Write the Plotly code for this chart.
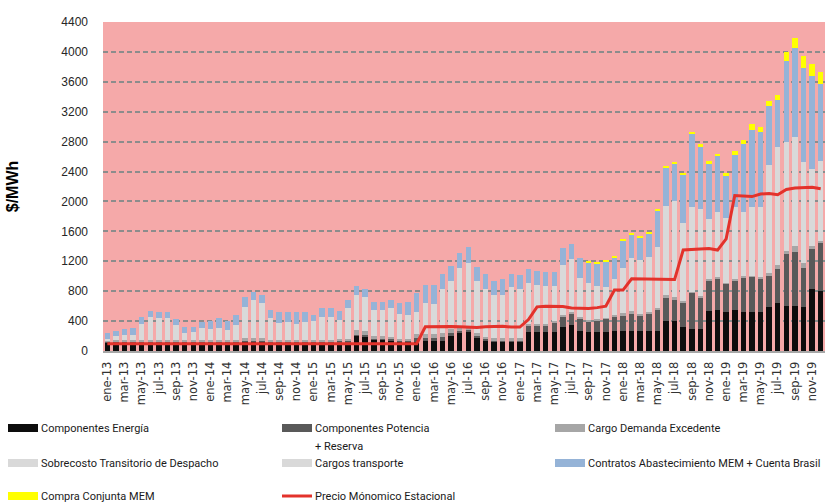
import plotly.graph_objects as go

# Monthly periods ene-13 .. dic-19
meses = ["ene", "feb", "mar", "abr", "may", "jun", "jul", "ago", "sep", "oct", "nov", "dic"]
periodos = [f"{m}-{a}" for a in range(13, 20) for m in meses]
etiquetas = periodos[::2]

# Stacked components in $/MWh (one value per month, 2013..2019)
energia = [
    120, 120, 120, 120, 120, 120, 120, 120, 120, 120, 120, 120,
    120, 120, 120, 120, 125, 125, 125, 120, 120, 120, 120, 120,
    120, 120, 120, 120, 120, 210, 200, 155, 155, 145, 125, 125,
    125, 134, 134, 134, 200, 236, 267, 178, 147, 125, 125, 125,
    125, 258, 258, 258, 258, 325, 343, 270, 258, 258, 258, 262,
    267, 270, 270, 270, 270, 405, 405, 317, 294, 294, 535, 548,
    526, 548, 526, 526, 526, 592, 646, 606, 606, 584, 829, 806,
]
potencia = [
    10, 10, 10, 10, 10, 10, 10, 10, 10, 10, 10, 10,
    10, 10, 10, 10, 10, 10, 10, 10, 10, 10, 10, 10,
    10, 10, 10, 10, 10, 10, 10, 10, 10, 10, 10, 10,
    45, 45, 45, 55, 40, 30, 15, 33, 20, 20, 20, 20,
    20, 89, 89, 89, 120, 143, 152, 167, 142, 156, 170, 197,
    214, 234, 211, 225, 291, 299, 277, 334, 486, 424, 414, 424,
    370, 401, 459, 468, 446, 411, 446, 691, 722, 530, 535, 634,
]
demanda_excedente = [
    17, 17, 17, 17, 17, 17, 17, 17, 17, 17, 17, 17,
    17, 17, 17, 17, 40, 40, 40, 17, 17, 17, 17, 17,
    17, 17, 17, 35, 35, 60, 55, 35, 35, 35, 20, 20,
    55, 50, 50, 55, 50, 37, 25, 25, 25, 25, 25, 25,
    25, 20, 20, 20, 20, 20, 22, 20, 20, 18, 18, 18,
    22, 25, 20, 20, 20, 45, 35, 20, 15, 15, 15, 15,
    15, 15, 15, 15, 20, 35, 58, 45, 70, 58, 45, 30,
]
sobrecosto = [
    0, 34, 47, 51, 194, 292, 279, 279, 181, 69, 91, 136,
    120, 137, 118, 178, 396, 486, 447, 274, 212, 214, 192, 214,
    229, 287, 287, 229, 381, 444, 428, 323, 323, 356, 314, 301,
    256, 372, 354, 540, 606, 766, 820, 659, 592, 533, 534, 636,
    569, 448, 426, 412, 381, 572, 620, 434, 395, 347, 315, 396,
    457, 560, 566, 592, 655, 1044, 1143, 886, 985, 1011, 651, 726,
    643, 746, 634, 701, 718, 1229, 1361, 1236, 1239, 1139, 804, 854,
]
transporte = [
    9, 20, 20, 20, 20, 20, 20, 20, 20, 20, 20, 20,
    22, 22, 22, 22, 22, 22, 22, 22, 22, 22, 22, 22,
    25, 25, 25, 25, 25, 25, 25, 25, 25, 25, 25, 25,
    45, 45, 45, 45, 45, 45, 45, 45, 45, 45, 45, 45,
    90, 90, 90, 90, 90, 90, 90, 90, 90, 90, 90, 90,
    150, 150, 150, 150, 150, 150, 150, 150, 150, 150, 150, 150,
    220, 220, 220, 220, 220, 220, 220, 220, 220, 220, 220, 220,
]
contratos = [
    89, 71, 80, 94, 98, 76, 71, 71, 76, 89, 67, 89,
    116, 134, 116, 134, 125, 107, 111, 107, 147, 134, 156, 134,
    80, 111, 111, 111, 111, 120, 107, 111, 111, 111, 143, 178,
    254, 236, 254, 200, 200, 200, 214, 187, 200, 192, 209, 178,
    183, 187, 187, 183, 183, 223, 200, 258, 280, 299, 351, 292,
    372, 316, 305, 318, 490, 507, 493, 653, 983, 838, 742, 739,
    568, 695, 918, 1025, 994, 793, 621, 1084, 1190, 1253, 1244, 1021,
]
compra_conjunta = [
    0, 0, 0, 0, 0, 0, 0, 0, 0, 0, 0, 0,
    0, 0, 0, 0, 0, 0, 0, 0, 0, 0, 0, 0,
    0, 0, 0, 0, 0, 0, 0, 0, 0, 0, 0, 0,
    0, 0, 0, 0, 0, 0, 0, 0, 0, 0, 0, 0,
    0, 0, 0, 0, 0, 0, 0, 0, 18, 18, 18, 22,
    18, 18, 18, 18, 18, 18, 22, 18, 22, 36, 31, 36,
    36, 53, 53, 76, 71, 67, 71, 111, 134, 156, 156, 169,
]
precio_monomico = [
    98, 98, 98, 98, 98, 98, 98, 98, 98, 98, 98, 98,
    98, 98, 98, 98, 98, 98, 98, 98, 98, 98, 98, 98,
    98, 98, 98, 98, 98, 98, 98, 98, 98, 98, 98, 98,
    98, 325, 328, 328, 328, 325, 315, 315, 325, 330, 330, 320,
    320, 420, 590, 600, 600, 595, 575, 570, 570, 580, 600, 815,
    815, 965, 965, 965, 965, 965, 955, 1350, 1355, 1360, 1370, 1350,
    1500, 2080, 2075, 2065, 2100, 2105, 2090, 2160, 2180, 2185, 2190, 2170,
]

series = [
    ("Componentes Energía", energia, "#0D0D0D"),
    ("Componentes Potencia + Reserva", potencia, "#595959"),
    ("Cargo Demanda Excedente", demanda_excedente, "#A6A6A6"),
    ("Sobrecosto Transitorio de Despacho", sobrecosto, "#D9D9D9"),
    ("Cargos transporte", transporte, "#D9D9D9"),
    ("Contratos Abastecimiento MEM + Cuenta Brasil", contratos, "#95B3D7"),
    ("Compra Conjunta MEM", compra_conjunta, "#FFFF00"),
]

fig = go.Figure()
for nombre, valores, color in series:
    fig.add_trace(go.Bar(
        x=periodos, y=valores, name=nombre,
        marker=dict(color=color, line=dict(width=0)),
    ))
fig.add_trace(go.Scatter(
    x=periodos, y=precio_monomico, name="Precio Mónomico Estacional",
    mode="lines", line=dict(color="#E3322B", width=3),
))

# plot-area geometry in pixels, used to place the hand-drawn legend
L, R, T, B = 103, 825, 22, 351


def px(x):
    return (x - L) / (R - L)


def py(y):
    return (B - y) / (B - T)


legend_font = dict(family="Roboto, sans-serif", size=11, color="#1A1A1A")
entradas = [
    ("Componentes Energía", "#0D0D0D", "bar", 8, 428),
    ("Componentes Potencia", "#595959", "bar", 282, 428),
    ("Cargo Demanda Excedente", "#A6A6A6", "bar", 555, 428),
    ("Sobrecosto Transitorio de Despacho", "#D9D9D9", "bar", 8, 463),
    ("Cargos transporte", "#D9D9D9", "bar", 282, 463),
    ("Contratos Abastecimiento MEM + Cuenta Brasil", "#95B3D7", "bar", 555, 463),
    ("Compra Conjunta MEM", "#FFFF00", "bar", 8, 496),
    ("Precio Mónomico Estacional", "#E3322B", "line", 282, 496),
]
shapes = []
annotations = []
for texto, color, tipo, x0, yc in entradas:
    if tipo == "bar":
        shapes.append(dict(type="rect", xref="paper", yref="paper",
                           x0=px(x0), x1=px(x0 + 30), y0=py(yc + 4), y1=py(yc - 4),
                           fillcolor=color, line=dict(width=0)))
    else:
        shapes.append(dict(type="line", xref="paper", yref="paper",
                           x0=px(x0), x1=px(x0 + 30), y0=py(yc), y1=py(yc),
                           line=dict(color=color, width=3)))
    annotations.append(dict(text=texto, xref="paper", yref="paper",
                            x=px(x0 + 31), y=py(yc), xanchor="left", yanchor="middle",
                            showarrow=False, font=legend_font))
annotations.append(dict(text="+ Reserva", xref="paper", yref="paper",
                        x=px(282 + 31), y=py(446), xanchor="left", yanchor="middle",
                        showarrow=False, font=legend_font))

fig.update_layout(
    width=826, height=504,
    margin=dict(l=L, r=826 - R, t=T, b=504 - B),
    barmode="stack", bargap=0.36,
    paper_bgcolor="white", plot_bgcolor="#F5A9A9",
    showlegend=False,
    shapes=shapes, annotations=annotations,
    xaxis=dict(
        type="category", tickmode="array", tickvals=etiquetas, ticktext=etiquetas,
        tickangle=-90, tickfont=dict(family="DejaVu Sans, sans-serif", size=11.5, color="#333333"),
        showgrid=False, showline=True, linecolor="#A6A6A6", linewidth=2,
        ticks="", ticklabelstandoff=4,
    ),
    yaxis=dict(
        range=[0, 4400], tickmode="linear", tick0=0, dtick=400,
        tickfont=dict(family="Liberation Sans, Arial, sans-serif", size=12, color="#262626"),
        showgrid=True, gridcolor="#8C8C8C", gridwidth=1.5, griddash="5px,3px",
        zeroline=False, ticks="", ticklabelstandoff=14,
        title=dict(text="<b>$/MWh</b>", standoff=38,
                   font=dict(family="Liberation Sans, Arial, sans-serif", size=16, color="#000000")),
    ),
)

fig.write_html("out.html")
